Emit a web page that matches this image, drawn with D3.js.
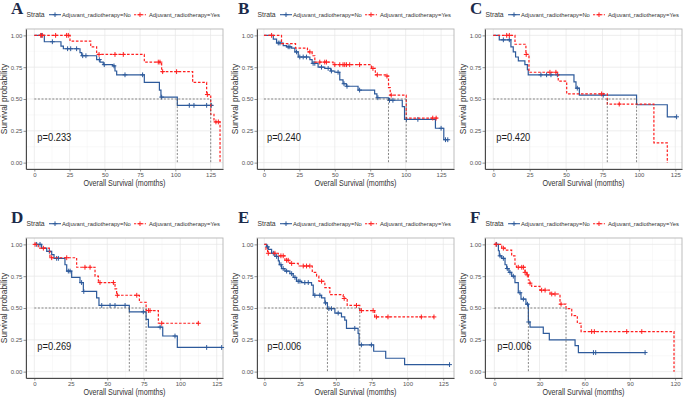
<!DOCTYPE html>
<html>
<head>
<meta charset="utf-8">
<script src="https://cdn.jsdelivr.net/npm/d3@7"></script>
<style>
  body { margin: 0; background: #fff; }
  svg { display: block; font-family: "Liberation Sans", Arial, sans-serif; }
</style>
</head>
<body>
<svg width="685" height="397"></svg>
<script>
// ---- data (time in months, survival probability) ----
const panelLetters = ["A", "B", "C", "D", "E", "F"];
const pValues = ["p=0.233", "p=0.240", "p=0.420", "p=0.269", "p=0.006", "p=0.006"];
const groupNames = ["Adjuvant_radiotherapy=No", "Adjuvant_radiotherapy=Yes"];
const ticks125 = [0, 25, 50, 75, 100, 125];
const ticks120 = [0, 30, 60, 90, 120];
const yTicks = [0, 0.25, 0.5, 0.75, 1];
const xDomains = [[-5.9, 133.8], [-4.9, 134.1], [-5.7, 129.6], [-5.7, 129.3], [-5.1, 132.5], [-6.2, 124.6]];

// A
const stepsA_no = [[7.1,0.95],[18.9,0.915],[20.6,0.895],[32.4,0.865],[33.6,0.84],[44.2,0.81],[46.6,0.79],[48.9,0.77],[55.6,0.76],[57.2,0.72],[58.4,0.69],[78.0,0.63],[88.7,0.57],[89.8,0.515],[101.4,0.45]];
const censA_no = [5.2,12.8,23.6,25.8,30.0,34.3,36.6,46.1,49.6,56.5,64.3,76.8,90.3,109.9,113.2,122.2,125.5];
const endA_no = 126.5;
const stepsA_yes = [[25.3,0.955],[40.0,0.91],[44.2,0.85],[78.0,0.79],[90.3,0.715],[112.3,0.63],[122.2,0.535],[125.1,0.38],[127.4,0.32],[131.7,0]];
const censA_yes = [4.5,5.7,15.1,22.9,24.1,45.9,57.2,63.1,87.9,89.1,91.0,100.9,122.7,128.8,130.5];
const endA_yes = 131.7;

// B
const stepsB_no = [[6.6,0.97],[8.9,0.94],[13.6,0.92],[15.9,0.91],[19.5,0.90],[21.8,0.87],[24.2,0.83],[32.4,0.81],[34.0,0.78],[38.2,0.75],[42.9,0.74],[47.1,0.72],[50.0,0.71],[53.5,0.65],[55.8,0.62],[58.2,0.60],[66.4,0.57],[78.1,0.54],[79.7,0.51],[87.9,0.49],[97.6,0.44],[99.2,0.34],[121.0,0.27],[126.9,0.18]];
const censB_no = [10.1,11.3,17.1,18.3,23.0,25.3,27.7,30.0,34.7,35.9,40.6,45.3,47.6,52.3,56.5,58.6,67.5,80.4,88.6,91.0,100.5,108.6,125.0,128.1,129.7];
const endB_no = 130.2;
const stepsB_yes = [[12.4,0.935],[22.3,0.90],[30.7,0.87],[34.0,0.84],[35.9,0.79],[48.8,0.77],[75.8,0.74],[78.6,0.69],[86.3,0.68],[87.9,0.59],[89.1,0.53],[100.4,0.35]];
const censB_yes = [5.4,32.4,39.4,42.9,44.1,50.0,53.5,55.8,57.0,58.2,60.5,67.5,76.9,80.0,86.8,89.8,119.1,121.5];
const endB_yes = 122.7;

// C
const stepsC_no = [[4.1,0.965],[12.1,0.91],[13.7,0.87],[15.3,0.83],[17.2,0.80],[21.7,0.77],[23.4,0.73],[24.0,0.69],[55.4,0.635],[56.8,0.585],[59.1,0.53],[98.4,0.455],[119.5,0.36]];
const censC_no = [6.9,11.0,32.7,36.6,39.6,44.0,57.7,75.5,125.9];
const endC_no = 125.9;
const stepsC_yes = [[14.9,0.93],[22.4,0.85],[24.5,0.71],[44.6,0.64],[50.4,0.54],[78.3,0.46],[110.3,0.155],[119.5,0]];
const censC_yes = [9.2,11.0,22.6,38.9,43.0,74.4,86.5];
const endC_yes = 119.5;

// D
const stepsD_no = [[5.0,0.97],[8.5,0.945],[11.9,0.92],[13.5,0.89],[21.0,0.84],[22.2,0.79],[25.6,0.74],[31.3,0.70],[33.6,0.63],[42.7,0.58],[44.3,0.52],[65.1,0.47],[76.6,0.41],[78.2,0.35],[88.0,0.28],[98.0,0.19]];
const censD_no = [1.6,3.9,10.3,15.3,16.5,23.3,24.5,32.4,33.9,46.2,51.9,55.3,62.2,74.7,86.2,96.4,118.1,128.4];
const endD_no = 128.4;
const stepsD_yes = [[2.7,0.97],[10.3,0.945],[10.7,0.895],[29.0,0.82],[41.6,0.75],[43.9,0.70],[55.3,0.65],[56.4,0.60],[72.0,0.545],[76.6,0.48],[85.0,0.38]];
const censD_yes = [0.5,6.2,11.9,22.2,34.7,38.2,45.0,54.2,56.9,70.2,78.2,79.3,87.3,112.4];
const endD_yes = 112.4;

// E
const stepsE_no = [[1.6,0.98],[2.8,0.96],[5.1,0.93],[7.4,0.905],[9.8,0.87],[10.5,0.84],[12.1,0.81],[14.4,0.79],[17.9,0.77],[20.2,0.74],[22.5,0.71],[26.0,0.70],[33.0,0.68],[34.2,0.60],[40.0,0.58],[42.3,0.54],[44.1,0.495],[49.3,0.46],[53.9,0.43],[56.2,0.405],[57.4,0.34],[65.5,0.30],[66.2,0.21],[76.4,0.16],[84.8,0.105],[98.0,0.055]];
const censE_no = [2.3,6.3,8.6,11.6,13.2,15.6,19.1,21.4,23.7,24.9,28.3,30.7,35.3,38.8,42.8,45.1,46.9,51.6,63.2,67.8,74.8,129.4];
const endE_no = 129.4;
const stepsE_yes = [[1.2,0.96],[2.3,0.93],[9.8,0.91],[14.4,0.875],[17.9,0.85],[23.7,0.83],[33.5,0.78],[36.5,0.75],[38.1,0.71],[42.3,0.66],[45.8,0.605],[55.1,0.575],[57.9,0.52],[66.7,0.48],[77.1,0.43]];
const censE_yes = [2.8,7.4,11.6,13.2,15.6,16.7,19.1,27.2,29.5,31.8,40.0,55.8,64.4,67.8,76.0,78.3,86.4,109.7,118.5];
const endE_yes = 118.5;

// F
const stepsF_no = [[2.7,0.95],[3.3,0.91],[4.9,0.89],[7.1,0.84],[8.2,0.81],[9.7,0.78],[11.5,0.75],[13.7,0.70],[15.9,0.62],[17.7,0.57],[21.0,0.53],[22.6,0.39],[23.7,0.35],[32.5,0.30],[36.5,0.25],[53.6,0.205],[55.8,0.15]];
const censF_no = [1.5,3.8,6.0,8.6,10.4,12.6,17.0,19.3,22.0,22.8,65.8,67.3,100.1];
const endF_no = 100.1;
const stepsF_yes = [[4.9,0.97],[7.1,0.955],[11.5,0.91],[13.7,0.83],[14.8,0.82],[20.4,0.78],[21.5,0.76],[22.6,0.72],[23.2,0.695],[24.8,0.67],[30.3,0.64],[37.0,0.61],[43.6,0.53],[47.6,0.495],[51.4,0.44],[55.1,0.38],[57.6,0.315],[119.3,0]];
const censF_yes = [1.1,6.0,15.9,18.2,19.3,20.4,21.9,23.7,31.4,33.7,38.1,40.3,44.3,64.6,66.4,87.9,97.9];
const endF_yes = 119.3;

// ---- layout ----
const svg = d3.select("svg");
const W = 197, H = 140;
const panelX = [26, 257, 485];
const panelY = [29, 238];
const letterX = [11, 238, 470];
const colNo = "#2d5a9b", colYes = "#ff1f1f";

const panels = [
  { no: [stepsA_no, censA_no, endA_no], yes: [stepsA_yes, censA_yes, endA_yes], ticks: ticks125 },
  { no: [stepsB_no, censB_no, endB_no], yes: [stepsB_yes, censB_yes, endB_yes], ticks: ticks125 },
  { no: [stepsC_no, censC_no, endC_no], yes: [stepsC_yes, censC_yes, endC_yes], ticks: ticks125 },
  { no: [stepsD_no, censD_no, endD_no], yes: [stepsD_yes, censD_yes, endD_yes], ticks: ticks125 },
  { no: [stepsE_no, censE_no, endE_no], yes: [stepsE_yes, censE_yes, endE_yes], ticks: ticks125 },
  { no: [stepsF_no, censF_no, endF_no], yes: [stepsF_yes, censF_yes, endF_yes], ticks: ticks120 }
];

// survival value at time t from a step list
function survAt(steps, t) {
  let s = 1;
  steps.forEach(d => { if (d[0] <= t) s = d[1]; });
  return s;
}

function medianOf(steps) {
  const hit = steps.find(d => d[1] <= 0.5);
  return hit ? hit[0] : null;
}

function crossPath(x, y, r) {
  return `M${x - r},${y}H${x + r}M${x},${y - r}V${y + r}`;
}

function drawPanel(p, i) {
  const col = i % 3, row = Math.floor(i / 3);
  const x0 = panelX[col], y0 = panelY[row];
  const g = svg.append("g").attr("transform", `translate(${x0},${y0})`);

  const x = d3.scaleLinear().domain(xDomains[i]).range([0, W]);
  const y = d3.scaleLinear().domain([-0.05, 1.05]).range([H, 0]);

  // minor grid
  const xMinor = p.ticks.slice(1).map((t, k) => (t + p.ticks[k]) / 2);
  const yMinor = [0.125, 0.375, 0.625, 0.875];
  g.selectAll(".vminor").data(xMinor).enter().append("line")
    .attr("x1", d => x(d)).attr("x2", d => x(d)).attr("y1", 0).attr("y2", H)
    .attr("stroke", "#f3f3f3").attr("stroke-width", 0.5);
  g.selectAll(".hminor").data(yMinor).enter().append("line")
    .attr("y1", d => y(d)).attr("y2", d => y(d)).attr("x1", 0).attr("x2", W)
    .attr("stroke", "#f3f3f3").attr("stroke-width", 0.5);
  // major grid
  g.selectAll(".vmajor").data(p.ticks).enter().append("line")
    .attr("x1", d => x(d)).attr("x2", d => x(d)).attr("y1", 0).attr("y2", H)
    .attr("stroke", "#e6e6e6").attr("stroke-width", 0.7);
  g.selectAll(".hmajor").data(yTicks).enter().append("line")
    .attr("y1", d => y(d)).attr("y2", d => y(d)).attr("x1", 0).attr("x2", W)
    .attr("stroke", "#e6e6e6").attr("stroke-width", 0.7);

  // panel border
  g.append("rect").attr("width", W).attr("height", H)
    .attr("fill", "none").attr("stroke", "#b5b5b5").attr("stroke-width", 0.9);

  // axes
  const xAxis = g.append("g").attr("transform", `translate(0,${H})`)
    .call(d3.axisBottom(x).tickValues(p.ticks).tickSize(2.5).tickSizeOuter(0).tickPadding(1.3));
  const yAxis = g.append("g")
    .call(d3.axisLeft(y).tickValues(yTicks).tickFormat(d3.format(".2f")).tickSize(2.5).tickSizeOuter(0).tickPadding(1.2));
  [xAxis, yAxis].forEach(a => {
    a.select(".domain").attr("stroke", "#4a4a4a").attr("stroke-width", 1);
    a.selectAll(".tick line").attr("stroke", "#4a4a4a").attr("stroke-width", 0.6);
    a.selectAll(".tick text").attr("fill", "#555").style("font-size", "6px")
      .style("font-family", "Liberation Sans, Arial, sans-serif");
  });

  // curves
  const line = d3.line().x(d => x(d[0])).y(d => y(d[1])).curve(d3.curveStepAfter);
  const groups = [
    { data: p.no, color: colNo, dash: null },
    { data: p.yes, color: colYes, dash: "2.6,1.7" }
  ];
  groups.forEach(gr => {
    const [steps, cens, end] = gr.data;
    const pts = [[0, 1]].concat(steps, [[end, steps[steps.length - 1][1]]]);
    g.append("path").attr("d", line(pts))
      .attr("fill", "none").attr("stroke", gr.color).attr("stroke-width", 1.2)
      .attr("stroke-dasharray", gr.dash);
    g.append("path")
      .attr("d", cens.map(t => crossPath(x(t), y(survAt(steps, t)), 2.4)).join(""))
      .attr("fill", "none").attr("stroke", gr.color).attr("stroke-width", 1);
  });

  // median survival lines
  const meds = [medianOf(p.no[0]), medianOf(p.yes[0])].filter(m => m !== null);
  if (meds.length) {
    g.append("line").attr("x1", x(0)).attr("x2", x(d3.max(meds)))
      .attr("y1", y(0.5)).attr("y2", y(0.5))
      .attr("stroke", "#555").attr("stroke-width", 0.7).attr("stroke-dasharray", "2,1.6");
    meds.forEach(m => {
      g.append("line").attr("x1", x(m)).attr("x2", x(m))
        .attr("y1", y(0.5)).attr("y2", y(0))
        .attr("stroke", "#555").attr("stroke-width", 0.7).attr("stroke-dasharray", "2,1.6");
    });
  }

  // p-value
  g.append("text")
    .attr("transform", `translate(${x(0) + 3},${y(0.2) + 4}) scale(0.85,1)`)
    .style("font-size", "11px").attr("fill", "#1a1a1a")
    .text(pValues[i]);

  // axis titles
  g.append("text")
    .attr("transform", `translate(${W / 2},${H + 16.5}) scale(0.85,1)`)
    .attr("text-anchor", "middle").style("font-size", "8.4px").attr("fill", "#333")
    .text("Overall Survival (momths)");
  g.append("text")
    .attr("transform", `translate(-19,${H / 2}) rotate(-90)`)
    .attr("text-anchor", "middle").style("font-size", "8.4px").attr("fill", "#333")
    .text("Survival probability");

  // legend
  const lg = g.append("g").attr("transform", "translate(0,-12)");
  lg.append("text").attr("x", 0.5).attr("y", 0).style("font-size", "6.8px").attr("fill", "#333").text("Strata");
  const keys = [
    { dx: 23, tx: 36, color: colNo, dash: null, label: groupNames[0] },
    { dx: 108, tx: 123, color: colYes, dash: "2.2,1.4", label: groupNames[1] }
  ];
  keys.forEach(k => {
    lg.append("line").attr("x1", k.dx).attr("x2", k.dx + 12).attr("y1", -2.3).attr("y2", -2.3)
      .attr("stroke", k.color).attr("stroke-width", 1.1).attr("stroke-dasharray", k.dash);
    lg.append("path").attr("d", crossPath(k.dx + 6, -2.3, 2.3))
      .attr("stroke", k.color).attr("stroke-width", 1);
    lg.append("text").attr("x", k.tx).attr("y", 0).style("font-size", "5.8px").attr("fill", "#333").text(k.label);
  });

  // panel letter
  svg.append("text").attr("x", letterX[col]).attr("y", y0 - 15)
    .style("font-family", "Liberation Serif, Times New Roman, serif")
    .style("font-weight", "bold").style("font-size", "17px").attr("fill", "#1c2a4a")
    .text(panelLetters[i]);
}

panels.forEach((p, i) => drawPanel(p, i));
</script>
</body>
</html>
